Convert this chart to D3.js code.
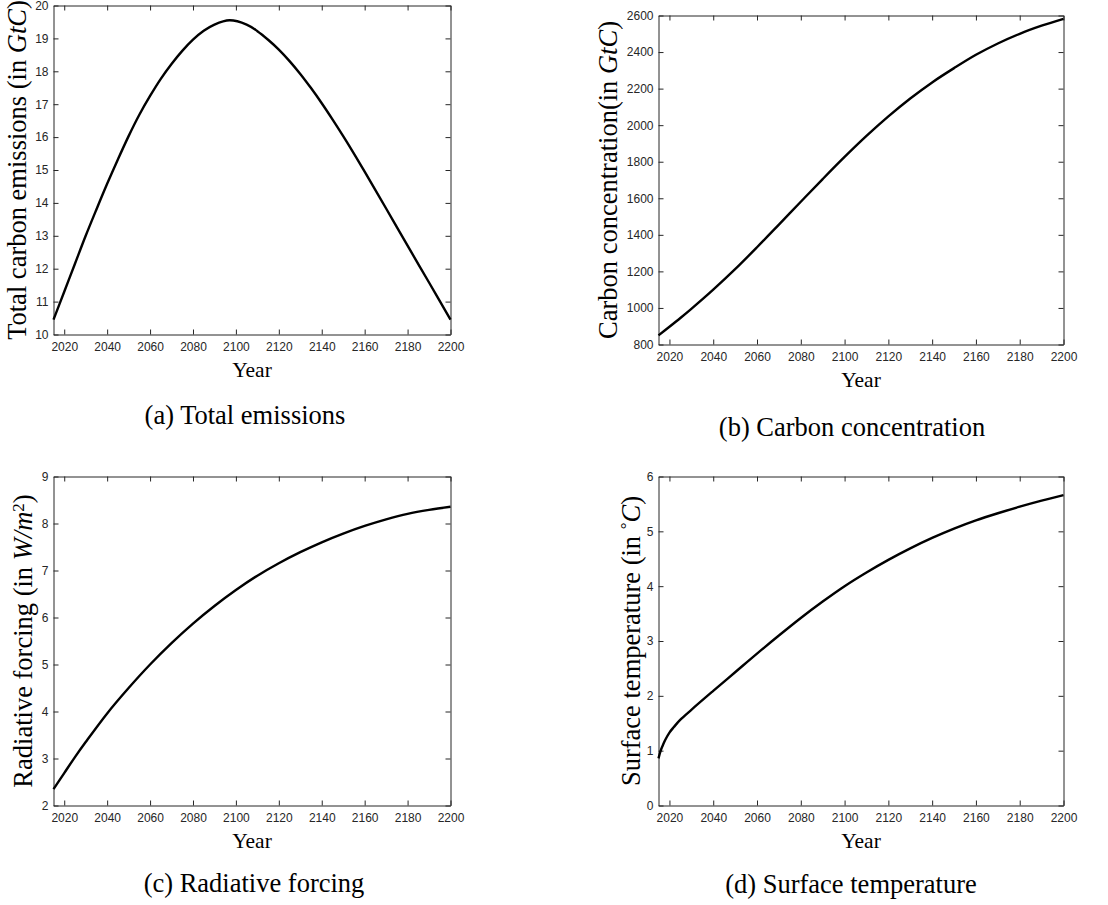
<!DOCTYPE html>
<html>
<head>
<meta charset="utf-8">
<script src="https://cdn.jsdelivr.net/npm/d3@7"></script>
<style>
  body { margin: 0; background: #fff; }
  svg { display: block; }
</style>
</head>
<body>
<svg id="fig" width="1108" height="905"></svg>
<script>
// (a) total carbon emissions, GtC
var emissionYears = [2015, 2020, 2025, 2030, 2035, 2040, 2045, 2050, 2055, 2060, 2065, 2070, 2075, 2080, 2085, 2090, 2097,
  2105, 2110, 2115, 2120, 2125, 2130, 2135, 2140, 2145, 2150, 2155, 2160, 2170, 2180, 2190, 2200]
var emissionValues = [10.45, 11.3, 12.15, 13.0, 13.8, 14.58, 15.32, 16.03, 16.68, 17.25, 17.77, 18.22, 18.62, 18.96, 19.23, 19.42, 19.55,
  19.42, 19.22, 18.96, 18.66, 18.31, 17.92, 17.49, 17.03, 16.54, 16.03, 15.5, 14.95, 13.83, 12.7, 11.58, 10.45]

// (b) carbon concentration, GtC
var concYears = [2015, 2020, 2025, 2030, 2040, 2050, 2060, 2070, 2080, 2090, 2100, 2110, 2120, 2130, 2140, 2150, 2160, 2170, 2180, 2190, 2200]
var concValues = [850, 897, 945, 995, 1100, 1212, 1332, 1456, 1581, 1705, 1826, 1941, 2048, 2146, 2234, 2312, 2385, 2447, 2500, 2544, 2582]

// (c) radiative forcing, W/m^2
var forcingYears = [2015, 2020, 2025, 2030, 2040, 2050, 2060, 2070, 2080, 2090, 2100, 2110, 2120, 2130, 2140, 2150, 2160, 2170, 2180, 2190, 2200]
var forcingValues = [2.35, 2.69, 3.03, 3.35, 3.96, 4.5, 5.0, 5.455, 5.87, 6.245, 6.585, 6.89, 7.155, 7.39, 7.6, 7.785, 7.948, 8.088, 8.206, 8.291, 8.356]

// (d) surface temperature, deg C
var tempYears = [2015, 2016, 2017, 2018, 2020, 2022, 2025, 2030, 2040, 2050, 2060, 2070, 2080, 2090, 2100, 2110, 2120, 2130, 2140, 2150, 2160, 2170, 2180, 2190, 2200]
var tempValues = [0.86, 1.0, 1.1, 1.19, 1.33, 1.43, 1.565, 1.745, 2.09, 2.43, 2.77, 3.1, 3.42, 3.72, 4.0, 4.25, 4.48, 4.69, 4.88, 5.05, 5.2, 5.33, 5.45, 5.56, 5.66]

var yearDomain = [2015, 2200]
var yearTicks = [2020, 2040, 2060, 2080, 2100, 2120, 2140, 2160, 2180, 2200]

var svg = d3.select('#fig')
var axisColor = '#262626'
var serif = '"Liberation Serif", "Times New Roman", serif'

var panels = [
  { years: emissionYears, values: emissionValues, yDomain: [10, 20], yTicks: d3.range(10, 21, 1),
    l: 53.5, t: 5.5, r: 450.5, b: 334.5, labelX: 17, yearY: 377, capX: 245, capY: 424,
    ylabel: [['Total carbon emissions (in ', ''], ['GtC', 'i'], [')', '']],
    caption: '(a) Total emissions' },
  { years: concYears, values: concValues, yDomain: [800, 2600], yTicks: d3.range(800, 2601, 200),
    l: 658.5, t: 15.5, r: 1063.5, b: 344.5, labelX: 608, yearY: 387, capX: 852, capY: 436,
    ylabel: [['Carbon concentration(in ', ''], ['GtC', 'i'], [')', '']],
    caption: '(b) Carbon concentration' },
  { years: forcingYears, values: forcingValues, yDomain: [2, 9], yTicks: d3.range(2, 10, 1),
    l: 53.5, t: 476.5, r: 450.5, b: 805.5, labelX: 23, yearY: 848, capX: 254, capY: 892,
    ylabel: [['Radiative forcing (in ', ''], ['W/m', 'i'], ['2', 'sup'], [')', '']],
    caption: '(c) Radiative forcing' },
  { years: tempYears, values: tempValues, yDomain: [0, 6], yTicks: d3.range(0, 7, 1),
    l: 658.5, t: 476.5, r: 1063.5, b: 805.5, labelX: 631, yearY: 848, capX: 851, capY: 893,
    ylabel: [['Surface temperature (in ', ''], ['\u00b0', 'sup'], ['C', 'i'], [')', '']],
    caption: '(d) Surface temperature' }
]

function styleAxis(g) {
  g.selectAll('path').attr('stroke', axisColor).attr('stroke-width', 1)
  g.selectAll('line').attr('stroke', axisColor).attr('stroke-width', 1)
  g.selectAll('text')
    .attr('fill', axisColor)
    .style('font-family', '"Liberation Sans", Arial, sans-serif')
    .style('font-size', '12px')
}

panels.forEach(function (p) {
  var x = d3.scaleLinear().domain(yearDomain).range([p.l, p.r])
  var y = d3.scaleLinear().domain(p.yDomain).range([p.b, p.t])

  // box with inward ticks on all four sides
  svg.append('g').attr('transform', 'translate(0,' + p.b + ')')
    .call(d3.axisBottom(x).tickValues(yearTicks).tickFormat(d3.format('d')).tickSizeInner(-5).tickSizeOuter(0).tickPadding(8))
    .call(styleAxis)
  svg.append('g').attr('transform', 'translate(0,' + p.t + ')')
    .call(d3.axisTop(x).tickValues(yearTicks).tickFormat('').tickSizeInner(-5).tickSizeOuter(0))
    .call(styleAxis)
  svg.append('g').attr('transform', 'translate(' + p.l + ',0)')
    .call(d3.axisLeft(y).tickValues(p.yTicks).tickFormat(d3.format('d')).tickSizeInner(-5).tickSizeOuter(0).tickPadding(5))
    .call(styleAxis)
  svg.append('g').attr('transform', 'translate(' + p.r + ',0)')
    .call(d3.axisRight(y).tickValues(p.yTicks).tickFormat('').tickSizeInner(-5).tickSizeOuter(0))
    .call(styleAxis)

  var pts = p.years.map(function (yr, i) { return [yr, p.values[i]] })
  var line = d3.line()
    .x(function (d) { return x(d[0]) })
    .y(function (d) { return y(d[1]) })
    .curve(d3.curveCatmullRom.alpha(0.5))

  svg.append('path')
    .datum(pts)
    .attr('d', line)
    .attr('fill', 'none')
    .attr('stroke', '#000')
    .attr('stroke-width', 2.4)
    .attr('stroke-linejoin', 'round')

  // y label, rotated
  var yl = svg.append('text')
    .attr('transform', 'translate(' + p.labelX + ',' + ((p.t + p.b) / 2) + ') rotate(-90)')
    .attr('text-anchor', 'middle')
    .attr('dy', '0.35em')
    .style('font-family', serif)
    .style('font-size', '26.5px')
    .attr('fill', '#000')
  p.ylabel.forEach(function (part) {
    var ts = yl.append('tspan').text(part[0])
    if (part[1] == 'i') ts.style('font-style', 'italic')
    if (part[1] == 'sup') ts.style('font-size', '17px').attr('baseline-shift', '45%')
  })

  svg.append('text')
    .attr('x', (p.l + p.r) / 2)
    .attr('y', p.yearY)
    .attr('text-anchor', 'middle')
    .style('font-family', serif)
    .style('font-size', '21.5px')
    .text('Year')

  svg.append('text')
    .attr('x', p.capX)
    .attr('y', p.capY)
    .attr('text-anchor', 'middle')
    .style('font-family', serif)
    .style('font-size', '26.5px')
    .text(p.caption)
})
</script>
</body>
</html>
